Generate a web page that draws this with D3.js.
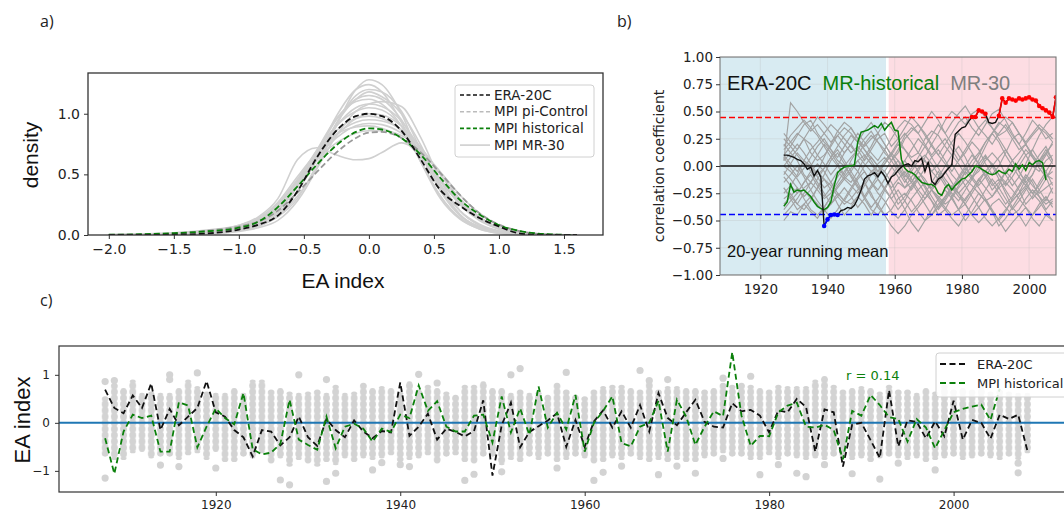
<!DOCTYPE html>
<html><head><meta charset="utf-8">
<script src="https://cdn.jsdelivr.net/npm/d3@7"></script>
<style>body{margin:0;background:#fff}svg{display:block;background:#fff}</style>
</head><body><svg id="fig" width="1064" height="512"></svg>
<script>
// ---------- a) EA index density estimates ----------
const densityX = [-2.0,-1.75,-1.5,-1.25,-1.0,-0.85,-0.7,-0.55,-0.4,-0.25,-0.1,0,0.1,0.25,0.4,0.55,0.7,0.85,1.0,1.15,1.3,1.5,1.6];
const densityERA = [0,0,0.003,0.012,0.045,0.085,0.16,0.36,0.64,0.86,0.98,1.0,0.98,0.86,0.62,0.37,0.24,0.14,0.07,0.015,0.002,0,0];
const densityPiControl = [0.001,0.004,0.012,0.035,0.07,0.11,0.2,0.35,0.52,0.68,0.8,0.845,0.85,0.8,0.68,0.51,0.33,0.18,0.085,0.035,0.01,0.001,0];
const densityHist = [0.002,0.006,0.015,0.03,0.06,0.11,0.23,0.4,0.58,0.74,0.85,0.88,0.87,0.8,0.66,0.47,0.29,0.17,0.08,0.035,0.012,0.002,0];
const densityMR30 = [
  [0,0,0.002,0.008,0.03,0.06,0.12,0.28,0.55,0.9,1.2,1.28,1.24,1.0,0.62,0.32,0.14,0.06,0.02,0.005,0,0,0],
  [0,0.001,0.004,0.01,0.035,0.07,0.16,0.36,0.66,0.98,1.2,1.24,1.18,0.93,0.6,0.3,0.13,0.05,0.015,0.004,0,0,0],
  [0,0,0.003,0.01,0.04,0.08,0.15,0.3,0.58,0.92,1.15,1.2,1.18,1.02,0.7,0.38,0.16,0.06,0.02,0.005,0.001,0,0],
  [0,0.002,0.006,0.015,0.05,0.1,0.2,0.4,0.68,0.95,1.12,1.15,1.12,0.95,0.66,0.36,0.16,0.07,0.025,0.008,0.002,0,0],
  [0,0,0.003,0.012,0.04,0.08,0.16,0.32,0.55,0.82,1.02,1.08,1.1,1.06,0.8,0.45,0.2,0.08,0.025,0.006,0.001,0,0],
  [0.001,0.003,0.008,0.02,0.06,0.12,0.24,0.45,0.7,0.9,1.02,1.05,1.03,0.9,0.66,0.4,0.2,0.09,0.035,0.01,0.003,0,0],
  [0.001,0.004,0.01,0.025,0.06,0.12,0.25,0.46,0.68,0.86,0.96,0.98,0.96,0.86,0.68,0.45,0.25,0.12,0.05,0.015,0.004,0.001,0],
  [0.002,0.005,0.012,0.03,0.065,0.12,0.24,0.44,0.64,0.8,0.9,0.92,0.91,0.84,0.7,0.5,0.3,0.15,0.06,0.02,0.006,0.001,0],
  [0.002,0.006,0.015,0.035,0.07,0.13,0.26,0.45,0.63,0.76,0.84,0.86,0.86,0.82,0.7,0.52,0.33,0.18,0.08,0.03,0.01,0.002,0],
  [0.001,0.004,0.012,0.03,0.08,0.15,0.3,0.62,0.72,0.66,0.62,0.63,0.68,0.76,0.66,0.46,0.27,0.14,0.06,0.02,0.005,0.001,0],
  [0,0.001,0.004,0.012,0.04,0.09,0.2,0.42,0.7,0.96,1.1,1.12,1.08,0.9,0.6,0.32,0.14,0.05,0.015,0.004,0,0,0],
  [0.002,0.005,0.012,0.03,0.07,0.12,0.22,0.4,0.62,0.82,0.96,1.0,0.99,0.9,0.72,0.5,0.28,0.13,0.05,0.015,0.004,0.001,0],
  [0,0.001,0.005,0.015,0.045,0.09,0.18,0.36,0.62,0.92,1.12,1.18,1.14,1.0,0.74,0.4,0.17,0.06,0.02,0.005,0.001,0,0],
  [0.001,0.003,0.009,0.025,0.06,0.11,0.22,0.42,0.65,0.83,0.93,0.95,0.94,0.87,0.72,0.5,0.29,0.14,0.06,0.02,0.005,0.001,0],
  [0,0.002,0.006,0.018,0.05,0.1,0.2,0.4,0.66,0.9,1.05,1.08,1.06,0.94,0.7,0.42,0.2,0.08,0.03,0.008,0.002,0,0],
  [0.003,0.008,0.018,0.04,0.08,0.14,0.27,0.48,0.68,0.83,0.89,0.9,0.88,0.8,0.64,0.44,0.26,0.13,0.05,0.015,0.004,0.001,0]
];
const densityTicksX = [-2.0,-1.5,-1.0,-0.5,0.0,0.5,1.0,1.5];
const densityTicksY = [0.0,0.5,1.0];
const densityLegend = ["ERA-20C","MPI pi-Control","MPI historical","MPI MR-30"];

// ---------- b) 20-year running correlation ----------
const corrYears = d3.range(1927, 2009);
const corrERA = [0.10,0.10,0.09,0.08,0.06,0.05,0.02,-0.03,-0.01,-0.09,-0.04,-0.10,-0.55,-0.49,-0.45,-0.445,-0.45,-0.41,-0.40,-0.38,
  -0.39,-0.36,-0.30,-0.22,-0.12,-0.09,-0.08,-0.06,-0.10,-0.05,-0.09,-0.16,-0.10,-0.08,-0.04,-0.01,0.01,0.02,0.00,0.05,
  0.04,0.07,-0.05,0.04,-0.14,-0.17,-0.12,-0.10,-0.06,-0.02,0.01,0.29,0.32,0.35,0.36,0.41,0.45,0.45,0.51,0.50,
  0.48,0.40,0.39,0.40,0.46,0.62,0.58,0.62,0.61,0.60,0.62,0.61,0.62,0.63,0.61,0.60,0.55,0.53,0.51,0.49,0.45,0.63];
const corrHist = [-0.37,-0.33,-0.17,-0.24,-0.22,-0.23,-0.22,-0.25,-0.28,-0.33,-0.37,-0.39,-0.40,-0.38,-0.33,-0.18,-0.06,-0.03,-0.01,0.00,
  0.00,0.01,0.22,0.31,0.32,0.33,0.35,0.37,0.35,0.39,0.33,0.37,0.40,0.33,0.32,0.06,-0.02,-0.05,-0.06,-0.08,
  -0.12,-0.15,-0.16,-0.17,-0.17,-0.19,-0.25,-0.27,-0.20,-0.17,-0.22,-0.18,-0.15,-0.12,-0.11,-0.08,-0.05,0.00,-0.01,-0.03,
  -0.05,-0.07,-0.08,-0.07,-0.04,-0.06,-0.07,-0.03,-0.05,0.02,-0.03,0.01,-0.04,0.03,0.01,0.04,0.05,0.03,-0.13];
const mr30Years = d3.range(1927, 2008, 2);
const mr30Corr = [
  [0.15,0.22,0.30,0.25,0.12,0.05,0.10,0.18,0.28,0.35,0.30,0.22,0.15,0.05,-0.05,0.02,0.10,0.20,0.15,0.08,0.12,0.25,0.32,0.28,0.18,0.10,0.02,-0.08,0.00,0.10,0.22,0.30,0.40,0.35,0.25,0.15,0.20,0.28,0.35,0.30,0.22],
  [-0.30,-0.25,-0.35,-0.40,-0.32,-0.20,-0.12,-0.18,-0.28,-0.35,-0.30,-0.22,-0.15,-0.25,-0.38,-0.45,-0.40,-0.30,-0.25,-0.32,-0.42,-0.50,-0.45,-0.35,-0.28,-0.20,-0.25,-0.35,-0.45,-0.52,-0.45,-0.35,-0.30,-0.38,-0.45,-0.40,-0.30,-0.22,-0.28,-0.35,-0.30],
  [0.05,0.58,0.50,0.40,0.32,0.38,0.30,0.22,0.28,0.20,0.12,0.18,0.10,0.02,-0.05,0.05,0.12,0.05,-0.08,-0.15,-0.05,0.08,0.20,0.30,0.42,0.50,0.45,0.38,0.48,0.52,0.45,0.35,0.28,0.32,0.40,0.30,0.22,0.30,0.38,0.32,0.25],
  [-0.45,-0.38,-0.30,-0.20,-0.15,-0.22,-0.30,-0.25,-0.15,-0.05,0.02,-0.05,-0.15,-0.28,-0.35,-0.45,-0.55,-0.62,-0.55,-0.45,-0.38,-0.30,-0.22,-0.28,-0.35,-0.30,-0.20,-0.12,-0.18,-0.25,-0.32,-0.28,-0.20,-0.15,-0.22,-0.30,-0.38,-0.45,-0.38,-0.30,-0.35],
  [0.10,0.02,-0.05,0.05,0.15,0.22,0.30,0.38,0.32,0.25,0.18,0.10,0.20,0.28,0.22,0.12,0.05,0.12,0.25,0.32,0.38,0.30,0.20,0.10,0.02,-0.08,-0.15,-0.05,0.05,0.12,0.22,0.30,0.38,0.45,0.40,0.30,0.20,0.10,0.02,-0.05,0.05],
  [-0.10,-0.18,-0.25,-0.15,-0.05,0.02,-0.05,-0.15,-0.25,-0.32,-0.35,-0.28,-0.18,-0.08,0.02,0.08,0.00,-0.10,-0.20,-0.15,-0.05,-0.12,-0.22,-0.30,-0.38,-0.45,-0.40,-0.30,-0.22,-0.12,-0.05,-0.15,-0.25,-0.35,-0.28,-0.18,-0.08,-0.15,-0.28,-0.40,-0.32],
  [0.20,0.12,0.05,-0.08,-0.15,-0.05,0.08,0.20,0.32,0.40,0.35,0.25,0.15,0.08,0.00,-0.05,0.05,0.15,0.28,0.35,0.30,0.40,0.50,0.42,0.30,0.20,0.10,0.00,-0.10,-0.05,0.05,0.12,0.05,-0.08,-0.18,-0.10,0.02,0.15,0.28,0.38,0.45],
  [-0.20,-0.30,-0.40,-0.35,-0.42,-0.48,-0.38,-0.28,-0.20,-0.12,-0.18,-0.25,-0.15,-0.05,0.00,-0.10,-0.22,-0.35,-0.28,-0.18,-0.10,-0.20,-0.32,-0.45,-0.40,-0.48,-0.55,-0.45,-0.35,-0.25,-0.32,-0.42,-0.55,-0.48,-0.38,-0.28,-0.20,-0.30,-0.22,-0.12,0.00],
  [0.00,0.08,0.15,0.25,0.35,0.28,0.18,0.08,0.00,-0.10,-0.15,-0.05,0.08,0.18,0.30,0.40,0.35,0.25,0.15,0.05,-0.05,-0.15,-0.20,-0.10,0.00,0.10,0.18,0.08,-0.05,0.05,0.18,0.30,0.22,0.10,0.00,-0.10,-0.18,-0.08,0.05,0.15,0.05],
  [-0.35,-0.28,-0.20,-0.30,-0.40,-0.45,-0.38,-0.28,-0.18,-0.10,-0.02,0.05,-0.05,-0.15,-0.25,-0.32,-0.42,-0.48,-0.40,-0.30,-0.22,-0.15,-0.22,-0.32,-0.40,-0.28,-0.18,-0.05,-0.12,-0.20,-0.30,-0.42,-0.50,-0.60,-0.52,-0.45,-0.55,-0.45,-0.35,-0.28,-0.38],
  [0.25,0.18,0.10,0.02,0.00,0.10,0.20,0.12,0.02,-0.08,0.05,0.15,0.25,0.32,0.22,0.15,0.25,0.35,0.42,0.38,0.30,0.20,0.10,0.18,0.25,0.15,0.05,0.12,0.22,0.15,0.02,-0.08,0.00,0.12,0.25,0.30,0.20,0.08,0.00,0.10,0.22],
  [-0.05,-0.12,-0.20,-0.28,-0.22,-0.12,-0.02,0.08,0.15,0.05,-0.05,-0.15,-0.28,-0.38,-0.30,-0.20,-0.10,0.00,0.05,-0.05,-0.15,-0.25,-0.32,-0.40,-0.32,-0.22,-0.12,-0.02,-0.10,-0.18,-0.10,0.00,0.08,0.15,0.05,-0.05,-0.15,-0.25,-0.18,-0.08,-0.12],
  [-0.15,-0.08,0.00,-0.10,-0.22,-0.32,-0.40,-0.48,-0.40,-0.30,-0.20,-0.10,0.00,0.08,0.00,-0.10,-0.20,-0.12,-0.05,-0.15,-0.25,-0.35,-0.45,-0.38,-0.28,-0.18,-0.25,-0.32,-0.22,-0.12,-0.20,-0.28,-0.18,-0.05,-0.12,-0.22,-0.35,-0.28,-0.15,-0.05,-0.18],
  [0.05,0.12,0.20,0.12,0.02,-0.08,-0.02,0.08,0.18,0.28,0.35,0.25,0.18,0.25,0.30,0.20,0.10,0.00,-0.10,-0.02,0.08,0.18,0.28,0.38,0.30,0.40,0.48,0.55,0.45,0.35,0.28,0.20,0.30,0.38,0.28,0.20,0.30,0.42,0.35,0.25,0.30],
  [-0.25,-0.18,-0.08,0.05,0.00,-0.10,-0.20,-0.15,-0.05,-0.12,-0.05,0.05,0.10,0.02,-0.08,-0.05,-0.15,-0.28,-0.40,-0.52,-0.60,-0.50,-0.40,-0.30,-0.22,-0.30,-0.40,-0.35,-0.45,-0.38,-0.30,-0.40,-0.50,-0.42,-0.30,-0.20,-0.10,-0.18,-0.25,-0.20,-0.15],
  [0.00,-0.05,-0.12,-0.22,-0.30,-0.20,-0.08,0.05,0.12,0.02,-0.10,-0.20,-0.28,-0.18,-0.08,0.02,0.12,0.22,0.30,0.22,0.12,0.05,-0.05,0.02,0.12,0.22,0.30,0.22,0.12,0.02,-0.08,-0.18,-0.12,-0.22,-0.32,-0.25,-0.12,0.00,0.10,0.18,0.05],
  [-0.40,-0.32,-0.25,-0.15,-0.08,-0.18,-0.28,-0.20,-0.10,0.00,-0.08,-0.18,-0.30,-0.40,-0.45,-0.35,-0.25,-0.15,-0.20,-0.10,-0.02,0.05,-0.05,-0.12,-0.05,-0.15,-0.25,-0.18,-0.10,0.02,0.10,0.00,-0.12,-0.25,-0.38,-0.45,-0.38,-0.48,-0.55,-0.45,-0.50],
  [0.10,0.18,0.28,0.38,0.42,0.30,0.22,0.15,0.05,0.00,0.08,0.15,0.05,0.15,0.25,0.30,0.18,0.25,0.35,0.45,0.38,0.28,0.18,0.10,0.20,0.30,0.40,0.45,0.35,0.28,0.38,0.48,0.52,0.42,0.30,0.20,0.10,0.00,-0.05,0.05,0.10],
  [-0.20,-0.28,-0.35,-0.25,-0.15,-0.05,-0.12,-0.22,-0.35,-0.45,-0.38,-0.28,-0.35,-0.45,-0.35,-0.22,-0.10,-0.05,-0.15,-0.05,0.05,0.10,0.02,-0.08,-0.18,-0.25,-0.32,-0.22,-0.12,-0.02,0.08,0.02,-0.08,-0.18,-0.10,0.00,0.10,0.15,0.05,-0.10,-0.25],
  [0.30,0.22,0.15,0.25,0.20,0.10,0.02,-0.08,0.00,0.12,0.20,0.10,0.02,-0.05,-0.12,-0.20,-0.30,-0.40,-0.32,-0.20,-0.10,-0.18,-0.28,-0.38,-0.30,-0.20,-0.28,-0.35,-0.25,-0.15,-0.05,0.02,-0.08,-0.15,-0.05,0.05,0.15,0.08,-0.02,-0.10,-0.05],
  [-0.50,-0.42,-0.45,-0.35,-0.28,-0.35,-0.42,-0.35,-0.25,-0.32,-0.22,-0.12,-0.05,-0.15,-0.22,-0.12,-0.02,0.05,-0.02,-0.12,-0.22,-0.30,-0.22,-0.15,-0.05,0.02,-0.08,-0.18,-0.28,-0.38,-0.48,-0.55,-0.48,-0.40,-0.32,-0.25,-0.18,-0.25,-0.32,-0.42,-0.50],
  [0.18,0.28,0.35,0.42,0.35,0.45,0.38,0.30,0.20,0.12,0.20,0.30,0.22,0.12,0.05,0.15,0.05,-0.05,0.05,0.15,0.25,0.18,0.08,0.15,0.05,-0.05,0.05,0.15,0.25,0.35,0.42,0.35,0.25,0.15,0.05,0.12,0.20,0.10,0.02,0.12,0.20],
  [-0.08,0.02,0.12,0.05,-0.05,-0.15,-0.25,-0.35,-0.28,-0.20,-0.28,-0.38,-0.30,-0.20,-0.12,-0.22,-0.30,-0.22,-0.32,-0.42,-0.35,-0.25,-0.15,-0.05,-0.15,-0.28,-0.40,-0.50,-0.42,-0.32,-0.22,-0.12,-0.20,-0.30,-0.40,-0.32,-0.22,-0.12,-0.22,-0.32,-0.20],
  [0.08,-0.02,-0.10,-0.02,0.08,0.18,0.25,0.15,0.08,0.18,0.28,0.22,0.32,0.40,0.30,0.20,0.10,-0.02,-0.12,-0.22,-0.12,-0.02,0.08,-0.02,-0.12,-0.20,-0.10,0.00,0.10,0.02,-0.10,-0.22,-0.15,-0.05,0.05,-0.05,-0.15,-0.08,0.05,0.12,0.02]
];
const corrThreshold = 0.444;
const corrTicksX = [1920,1940,1960,1980,2000];
const corrTicksY = [-1,-0.75,-0.5,-0.25,0,0.25,0.5,0.75,1];
const periodSplit = [1957.4, 1958.2];

// ---------- c) EA index time series ----------
const eaYears = d3.range(1908, 2009);
const eaERA = [0.69,0.31,0.20,0.57,0.31,0.82,-0.15,0.29,-0.05,0.13,0.31,0.87,
  0.22,0.13,-0.15,-0.30,-0.70,-0.15,-0.18,-0.47,-0.30,0.13,
  -0.30,-0.48,0.08,-0.15,-0.30,0.05,-0.18,-0.32,-0.17,-0.20,
  0.84,-0.27,-0.08,0.19,-0.35,-0.12,-0.19,-0.28,-0.17,0.47,
  -1.10,-0.05,0.42,-0.51,-0.19,-0.07,0.05,0.20,-0.50,0.06,
  -0.50,0.03,0.26,-0.10,0.24,-0.10,0.37,-0.18,0.62,0.10,
  -0.05,0.22,0.48,0.02,-0.08,-0.10,0.41,0.24,0.27,0.15,
  -0.20,0.26,0.22,0.50,0.33,-0.60,0.28,0.22,-0.91,-0.04,
  0.00,-0.36,-0.73,0.68,-0.49,0.05,0.02,-0.32,0.03,-0.28,
  0.46,-0.35,0.06,0.00,-0.33,0.17,0.08,0.17,-0.58];
const eaHist = [-0.32,-1.06,-0.18,0.17,0.10,0.15,-0.60,-0.60,0.43,0.36,-0.51,-0.08,
  0.30,0.10,-0.03,0.62,-0.55,-0.66,-0.62,-0.44,0.48,-0.35,
  -0.46,-0.56,0.13,-0.53,-0.08,-0.02,-0.12,-0.39,-0.12,-0.19,
  0.17,0.10,0.78,0.25,0.45,-0.08,-0.18,-0.18,0.15,0.17,
  -0.41,0.55,-0.20,0.30,-0.25,0.76,-0.10,0.21,-0.14,0.58,
  -0.60,0.00,0.25,0.55,-0.42,-0.49,-0.08,0.00,0.46,-0.60,
  0.48,0.13,-0.46,-0.08,0.24,0.14,1.47,0.15,-0.48,-0.27,
  -0.28,0.22,0.36,0.42,-0.08,-0.10,-0.04,-0.15,-0.76,0.25,
  0.15,0.58,0.37,0.12,0.08,-0.39,0.08,-0.10,-0.53,-0.15,
  0.22,0.29,0.34,0.38,0.06,0.71];
// upper / lower edge of the dense cloud of MR-30 member values per year
const memberHi = [0.48,0.76,0.65,0.83,0.55,0.58,0.55,0.55,0.65,0.83,0.69,0.58,
  0.55,0.55,0.65,0.55,0.83,0.83,0.62,0.65,0.58,0.55,
  0.58,0.62,0.55,0.72,0.55,0.58,0.76,0.65,0.69,0.65,
  0.58,0.79,0.62,0.72,0.65,0.58,0.51,0.72,0.72,0.79,
  0.65,0.65,0.55,0.62,0.55,0.58,0.51,0.76,0.62,0.51,
  0.48,0.62,0.69,0.72,0.72,0.65,0.62,0.83,0.62,0.69,
  0.69,0.65,0.65,0.62,0.65,0.76,0.72,0.76,0.72,0.65,
  0.62,0.72,0.69,0.69,0.69,0.83,0.90,0.72,0.62,0.65,
  0.69,0.65,0.58,0.72,0.62,0.62,0.55,0.65,0.58,0.72,
  0.62,0.65,0.62,0.69,0.58,0.62,0.58,0.55,0.55];
const memberLo = [-0.63,-0.70,-0.70,-0.56,-0.53,-0.67,-0.63,-0.63,-0.70,-0.60,-0.56,-0.70,
  -0.53,-0.74,-0.74,-0.63,-0.67,-0.56,-0.77,-0.67,-0.84,-0.70,
  -0.77,-0.84,-0.74,-0.81,-0.67,-0.74,-0.67,-0.70,-0.67,-0.60,
  -0.74,-0.70,-0.67,-0.60,-0.77,-0.63,-0.60,-0.74,-0.77,-0.63,
  -0.63,-0.81,-0.70,-0.74,-0.63,-0.70,-0.63,-0.74,-0.70,-0.63,
  -0.67,-0.77,-0.74,-0.67,-0.70,-0.63,-0.70,-0.74,-0.70,-0.74,
  -0.70,-0.74,-0.74,-0.67,-0.63,-0.56,-0.63,-0.63,-0.70,-0.70,
  -0.60,-0.70,-0.63,-0.67,-0.70,-0.67,-0.70,-0.63,-0.67,-0.70,
  -0.67,-0.74,-0.67,-0.63,-0.67,-0.70,-0.67,-0.74,-0.70,-0.67,
  -0.63,-0.70,-0.67,-0.63,-0.67,-0.70,-0.63,-0.70,-0.56];
// isolated member values outside the dense cloud: [year, EA index]
const memberOutliers = [[1908,0.86],[1908,-1.15],[1909,0.88],[1914,-0.88],[1915,1.0],[1915,0.9],[1916,-0.91],[1918,1.04],
  [1920,-0.94],[1927,-1.19],[1928,-1.29],[1929,1.0],[1932,0.9],[1932,-1.22],[1933,-1.05],[1937,-0.98],[1938,-0.83],
  [1940,-0.87],[1941,-0.91],[1942,1.01],[1944,0.83],[1947,-1.2],[1948,-1.07],[1951,-1.02],[1952,1.0],[1953,1.13],
  [1957,-0.94],[1958,1.05],[1961,-1.2],[1962,-1.03],[1964,-0.9],[1966,1.09],[1967,0.88],[1968,-1.08],[1969,0.9],
  [1970,-0.9],[1972,-1.05],[1975,0.93],[1975,-0.74],[1978,0.97],[1979,-1.08],[1981,-0.87],[1983,-1.05],[1984,-1.12],
  [1986,-0.87],[1989,-1.06],[1992,-1.17],[1994,-0.84],[1998,-0.98],[2007,-0.84],[2007,-1.04]];
const eaTicksX = [1920,1940,1960,1980,2000];
const eaTicksY = [-1,0,1];
const eaCorrLabel = "r = 0.14";

// ---------- drawing ----------
const svg = d3.select("#fig");
const defs = svg.append("defs");
const GREEN = "#0b800b";
const TICK_FONT = "DejaVu Sans, sans-serif";
const LABEL_FONT = "Liberation Sans, Arial, sans-serif";

function styleAxis(g, size) {
  g.attr("font-family", TICK_FONT).attr("font-size", size);
  g.select(".domain").remove();
  g.selectAll(".tick line").attr("stroke", "#333");
  g.selectAll(".tick text").attr("fill", "#222");
}

// panel labels
[["a)", 40, 27], ["b)", 617, 27], ["c)", 40, 306]].forEach(p =>
  svg.append("text").attr("x", p[1]).attr("y", p[2]).attr("font-family", "Open Sans, sans-serif")
    .attr("font-size", 16).attr("fill", "#222").text(p[0]));

// ===== a) =====
const xA = d3.scaleLinear().domain([-2.16, 1.80]).range([88, 603]);
const yA = d3.scaleLinear().domain([0, 1.336]).range([235, 73]);
const gA = svg.append("g");
defs.append("clipPath").attr("id", "clipA").append("rect").attr("x", 88).attr("y", 73).attr("width", 515).attr("height", 162);
const kde = d3.line().x((d, i) => xA(densityX[i])).y(d => yA(d)).curve(d3.curveMonotoneX);
const plotA = gA.append("g").attr("clip-path", "url(#clipA)");
densityMR30.forEach(c => plotA.append("path").attr("d", kde(c)).attr("fill", "none").attr("stroke", "#d0d0d0").attr("stroke-width", 1.6));
plotA.append("path").attr("d", kde(densityPiControl)).attr("fill", "none").attr("stroke", "#999").attr("stroke-width", 1.8).attr("stroke-dasharray", "6,3");
plotA.append("path").attr("d", kde(densityHist)).attr("fill", "none").attr("stroke", GREEN).attr("stroke-width", 1.8).attr("stroke-dasharray", "6,3");
plotA.append("path").attr("d", kde(densityERA)).attr("fill", "none").attr("stroke", "#111").attr("stroke-width", 1.8).attr("stroke-dasharray", "6,3");
gA.append("rect").attr("x", 88).attr("y", 73).attr("width", 515).attr("height", 162).attr("fill", "none").attr("stroke", "#333").attr("stroke-width", 1.3);
styleAxis(gA.append("g").attr("transform", "translate(0,235)")
  .call(d3.axisBottom(xA).tickValues(densityTicksX).tickFormat(d3.format(".1f")).tickSize(4).tickPadding(5)), 14);
styleAxis(gA.append("g").attr("transform", "translate(88,0)")
  .call(d3.axisLeft(yA).tickValues(densityTicksY).tickFormat(d3.format(".1f")).tickSize(4).tickPadding(4)), 14);
gA.append("text").attr("transform", "translate(38,155) rotate(-90)").attr("text-anchor", "middle")
  .attr("font-family", LABEL_FONT).attr("font-size", 21).attr("fill", "#111").text("density");
gA.append("text").attr("x", 343).attr("y", 288).attr("text-anchor", "middle")
  .attr("font-family", LABEL_FONT).attr("font-size", 21).attr("fill", "#111").text("EA index");
const legA = gA.append("g");
legA.append("rect").attr("x", 455).attr("y", 85).attr("width", 139).attr("height", 72).attr("rx", 3)
  .attr("fill", "#fff").attr("fill-opacity", 0.85).attr("stroke", "#d0d0d0");
const legStyles = [
  {c: "#111", dash: "4,2.5"}, {c: "#bbb", dash: "4,2.5"}, {c: GREEN, dash: "4,2.5"}, {c: "#cfcfcf", dash: null}
];
densityLegend.forEach((name, i) => {
  const y = 95 + i * 16.7;
  const ln = legA.append("line").attr("x1", 460).attr("x2", 490).attr("y1", y).attr("y2", y)
    .attr("stroke", legStyles[i].c).attr("stroke-width", 1.6);
  if (legStyles[i].dash) ln.attr("stroke-dasharray", legStyles[i].dash);
  legA.append("text").attr("x", 494).attr("y", y).attr("dy", "0.35em").attr("font-family", TICK_FONT)
    .attr("font-size", 13.5).attr("fill", "#222").text(name);
});

// ===== b) =====
const xB = d3.scaleLinear().domain([1908, 2008]).range([720, 1056]);
const yB = d3.scaleLinear().domain([-1, 1]).range([275, 57]);
const gB = svg.append("g");
defs.append("clipPath").attr("id", "clipB").append("rect").attr("x", 720).attr("y", 57).attr("width", 336).attr("height", 218);
const plotB = gB.append("g").attr("clip-path", "url(#clipB)");
plotB.append("rect").attr("x", xB(1908)).attr("y", 57).attr("width", xB(periodSplit[0]) - xB(1908)).attr("height", 218).attr("fill", "#d8ebf2");
plotB.append("rect").attr("x", xB(periodSplit[1])).attr("y", 57).attr("width", xB(2008) - xB(periodSplit[1])).attr("height", 218).attr("fill", "#fddde3");
corrTicksX.forEach(t => plotB.append("line").attr("x1", xB(t)).attr("x2", xB(t)).attr("y1", 57).attr("y2", 275).attr("stroke", "#b8b8b8").attr("stroke-opacity", 0.35).attr("stroke-width", 0.8));
corrTicksY.forEach(t => plotB.append("line").attr("x1", 720).attr("x2", 1056).attr("y1", yB(t)).attr("y2", yB(t)).attr("stroke", "#b8b8b8").attr("stroke-opacity", 0.35).attr("stroke-width", 0.8));
const mrLine = d3.line().x((d, i) => xB(mr30Years[i])).y(d => yB(d));
mr30Corr.forEach(s => plotB.append("path").attr("d", mrLine(s.slice(0, mr30Years.length))).attr("fill", "none").attr("stroke", "#a2a2a2").attr("stroke-width", 1.15));
plotB.append("line").attr("x1", 720).attr("x2", 1056).attr("y1", yB(0)).attr("y2", yB(0)).attr("stroke", "#111").attr("stroke-width", 1.4);
plotB.append("line").attr("x1", 720).attr("x2", 1056).attr("y1", yB(corrThreshold)).attr("y2", yB(corrThreshold)).attr("stroke", "#ff0000").attr("stroke-width", 1.5).attr("stroke-dasharray", "6,3");
plotB.append("line").attr("x1", 720).attr("x2", 1056).attr("y1", yB(-corrThreshold)).attr("y2", yB(-corrThreshold)).attr("stroke", "#0000ff").attr("stroke-width", 1.5).attr("stroke-dasharray", "6,3");
const corrLine = d3.line().x((d, i) => xB(corrYears[i])).y(d => yB(d));
plotB.append("path").attr("d", corrLine(corrHist)).attr("fill", "none").attr("stroke", GREEN).attr("stroke-width", 1.5);
plotB.append("path").attr("d", corrLine(corrERA)).attr("fill", "none").attr("stroke", "#111").attr("stroke-width", 1.4);
// significant stretches of the ERA-20C correlation
for (let i = 1; i < corrERA.length; i++) {
  const a = corrERA[i - 1], b = corrERA[i];
  let col = null;
  if (a >= corrThreshold && b >= corrThreshold) col = "#f00";
  if (a <= -corrThreshold && b <= -corrThreshold) col = "#00f";
  if (col) plotB.append("line").attr("x1", xB(corrYears[i - 1])).attr("y1", yB(a)).attr("x2", xB(corrYears[i])).attr("y2", yB(b)).attr("stroke", col).attr("stroke-width", 1.6);
}
corrERA.forEach((v, i) => {
  if (Math.abs(v) >= corrThreshold) plotB.append("circle").attr("cx", xB(corrYears[i])).attr("cy", yB(v)).attr("r", 2.3).attr("fill", v > 0 ? "#f00" : "#00f");
});
gB.append("rect").attr("x", 720).attr("y", 57).attr("width", 336).attr("height", 218).attr("fill", "none").attr("stroke", "#777").attr("stroke-width", 1.1);
styleAxis(gB.append("g").attr("transform", "translate(0,275)")
  .call(d3.axisBottom(xB).tickValues(corrTicksX).tickFormat(d3.format("d")).tickSize(4).tickPadding(5)), 13.5);
styleAxis(gB.append("g").attr("transform", "translate(720,0)")
  .call(d3.axisLeft(yB).tickValues(corrTicksY).tickFormat(d3.format(".2f")).tickSize(4).tickPadding(3)), 13.5);
gB.append("text").attr("transform", "translate(664,166) rotate(-90)").attr("text-anchor", "middle")
  .attr("font-family", TICK_FONT).attr("font-size", 14).attr("fill", "#222").text("correlation coefficient");
const titleB = gB.append("text").attr("x", 727).attr("y", 90).attr("font-family", LABEL_FONT).attr("font-size", 20);
titleB.append("tspan").attr("fill", "#111").text("ERA-20C");
titleB.append("tspan").attr("dx", 11).attr("fill", GREEN).text("MR-historical");
titleB.append("tspan").attr("dx", 11).attr("fill", "#7f7f7f").text("MR-30");
gB.append("text").attr("x", 727).attr("y", 257).attr("font-family", LABEL_FONT).attr("font-size", 16.5).attr("fill", "#111").text("20-year running mean");

// ===== c) =====
const xC = d3.scaleLinear().domain([1903, 2013]).range([59, 1073.5]);
const yC = d3.scaleLinear().domain([-1.44, 1.6]).range([492, 346]);
const gC = svg.append("g");
const R = 3.6;
const colStep = xC(1904) - xC(1903);
// stacked member markers rendered as a column of overlapping dots
const dotPat = defs.append("pattern").attr("id", "memberDots").attr("patternUnits", "userSpaceOnUse")
  .attr("x", xC(1908) - colStep / 2).attr("y", yC(0) - 3.1).attr("width", colStep).attr("height", 6.2);
dotPat.append("circle").attr("cx", colStep / 2).attr("cy", 3.1).attr("r", R).attr("fill", "#d3d3d3");
gC.selectAll("rect.member").data(eaYears).join("rect").attr("class", "member")
  .attr("x", d => xC(d) - R).attr("width", 2 * R)
  .attr("y", (d, i) => yC(memberHi[i]) - R).attr("height", (d, i) => yC(memberLo[i]) - yC(memberHi[i]) + 2 * R)
  .attr("rx", R).attr("fill", "url(#memberDots)");
gC.selectAll("circle.out").data(memberOutliers).join("circle").attr("class", "out")
  .attr("cx", d => xC(d[0])).attr("cy", d => yC(d[1])).attr("r", R).attr("fill", "#d3d3d3");
gC.append("line").attr("x1", 59).attr("x2", 1073).attr("y1", yC(0)).attr("y2", yC(0)).attr("stroke", "#1f77b4").attr("stroke-width", 2);
const eaLine = d3.line().x((d, i) => xC(eaYears[i])).y(d => yC(d));
gC.append("path").attr("d", eaLine(eaERA)).attr("fill", "none").attr("stroke", "#111").attr("stroke-width", 1.8).attr("stroke-dasharray", "6,3.5");
gC.append("path").attr("d", eaLine(eaHist)).attr("fill", "none").attr("stroke", GREEN).attr("stroke-width", 1.8).attr("stroke-dasharray", "6,3.5");
gC.append("rect").attr("x", 59).attr("y", 346).attr("width", 1014.5).attr("height", 146).attr("fill", "none").attr("stroke", "#333").attr("stroke-width", 1.2);
styleAxis(gC.append("g").attr("transform", "translate(0,492)")
  .call(d3.axisBottom(xC).tickValues(eaTicksX).tickFormat(d3.format("d")).tickSize(4).tickPadding(4)), 12);
styleAxis(gC.append("g").attr("transform", "translate(59,0)")
  .call(d3.axisLeft(yC).tickValues(eaTicksY).tickFormat(d3.format("d")).tickSize(4).tickPadding(5)), 12);
gC.append("text").attr("transform", "translate(30,420) rotate(-90)").attr("text-anchor", "middle")
  .attr("font-family", LABEL_FONT).attr("font-size", 22).attr("fill", "#111").text("EA index");
gC.append("text").attr("x", 846).attr("y", 380).attr("font-family", TICK_FONT).attr("font-size", 13)
  .attr("fill", GREEN).text(eaCorrLabel);
const legC = gC.append("g");
legC.append("rect").attr("x", 936).attr("y", 353).attr("width", 150).attr("height", 44).attr("rx", 3)
  .attr("fill", "#fff").attr("fill-opacity", 0.85).attr("stroke", "#d0d0d0");
[["ERA-20C", "#111"], ["MPI historical", GREEN]].forEach((e, i) => {
  const y = 364 + i * 19;
  legC.append("line").attr("x1", 940).attr("x2", 967).attr("y1", y).attr("y2", y).attr("stroke", e[1]).attr("stroke-width", 1.8).attr("stroke-dasharray", "6,3.5");
  legC.append("text").attr("x", 977).attr("y", y).attr("dy", "0.35em").attr("font-family", TICK_FONT).attr("font-size", 13).attr("fill", "#222").text(e[0]);
});
</script></body></html>
